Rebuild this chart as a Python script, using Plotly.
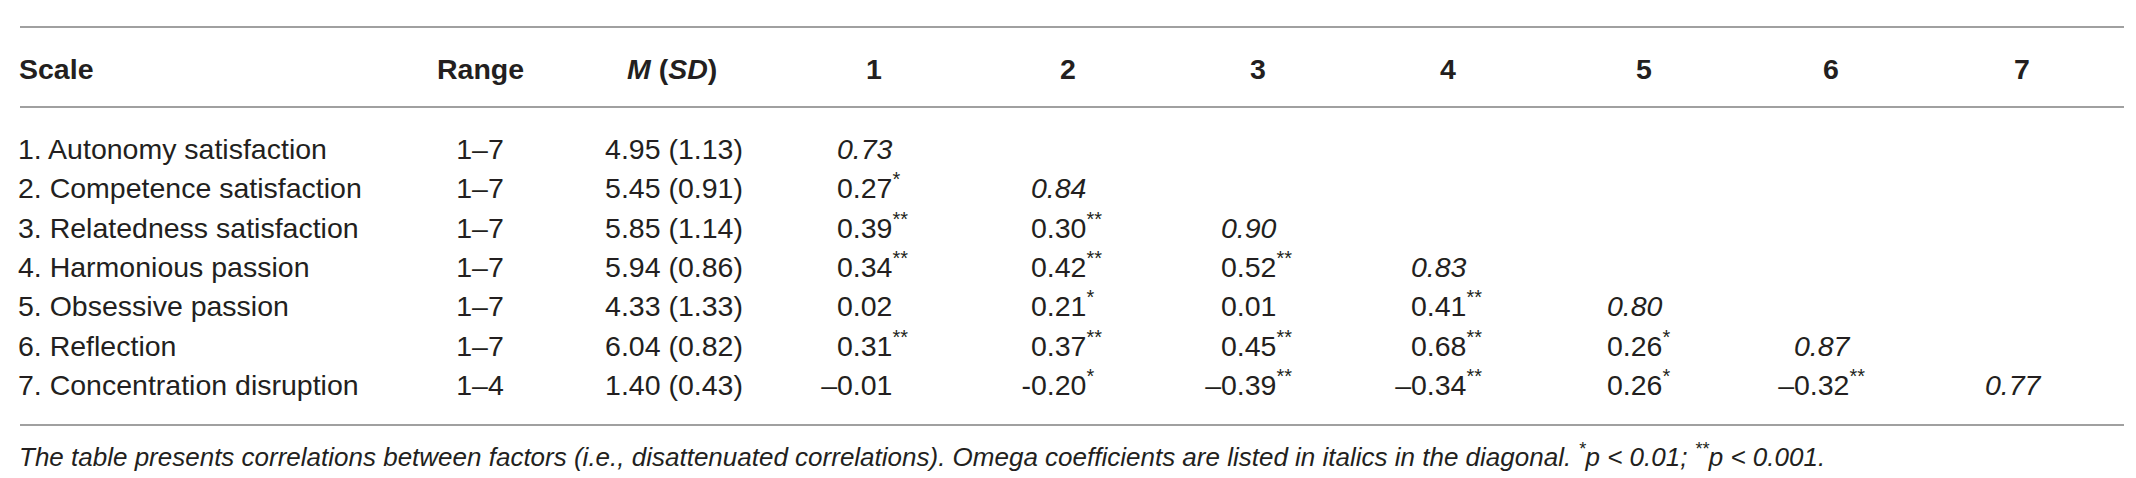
import plotly.graph_objects as go

# table contents
headers = ["Scale", "Range", "<i>M</i> (<i>SD</i>)", "1", "2", "3", "4", "5", "6", "7"]
scales = ["1. Autonomy satisfaction", "2. Competence satisfaction", "3. Relatedness satisfaction",
          "4. Harmonious passion", "5. Obsessive passion", "6. Reflection", "7. Concentration disruption"]
ranges = ["1–7", "1–7", "1–7", "1–7", "1–7", "1–7", "1–4"]
means = ["4.95", "5.45", "5.85", "5.94", "4.33", "6.04", "1.40"]
sds = ["1.13", "0.91", "1.14", "0.86", "1.33", "0.82", "0.43"]
omega = ["0.73", "0.84", "0.90", "0.83", "0.80", "0.87", "0.77"]
corr = [
    [],
    ["0.27"],
    ["0.39", "0.30"],
    ["0.34", "0.42", "0.52"],
    ["0.02", "0.21", "0.01", "0.41"],
    ["0.31", "0.37", "0.45", "0.68", "0.26"],
    ["–0.01", "-0.20", "–0.39", "–0.34", "0.26", "–0.32"],
]
stars = [
    [],
    ["*"],
    ["**", "**"],
    ["**", "**", "**"],
    ["", "*", "", "**"],
    ["**", "**", "**", "**", "*"],
    ["", "*", "**", "**", "*", "**"],
]
note = ("The table presents correlations between factors (i.e., disattenuated correlations). "
        "Omega coefficients are listed in italics in the diagonal. "
        "<sup>*</sup>p &lt; 0.01; <sup>**</sup>p &lt; 0.001.")

W, H = 2136, 478
FONT = "Liberation Sans, Arial, sans-serif"
INK = "#231f20"
FS = 28.5

head_x = [10, 472, 664, 866, 1060, 1250, 1440, 1636, 1823, 2014]
head_y = 61
row_y0, row_dy = 144, 39.3
rule_y = [19, 99, 417]
sign_w = {"–": 0.556, "-": 0.333}

row_y = [row_y0 + r * row_dy for r in range(len(scales))]
font = dict(family=FONT, size=FS, color=INK)

fig = go.Figure()


def column(xs, ys, texts, pos):
    fig.add_trace(go.Scatter(x=xs, y=ys, text=texts, mode="text", textposition=pos,
                             textfont=font, hoverinfo="skip", cliponaxis=False))


column([head_x[0]] * len(scales), row_y, scales, "middle right")
column([head_x[1]] * len(ranges), row_y, ranges, "middle center")
column([head_x[2] + 2] * len(means), row_y, [f"{m} ({s})" for m, s in zip(means, sds)], "middle center")

# correlations: digits line up, a leading sign hangs to the left
cx, cy, ct = [], [], []
for r in range(len(corr)):
    for c, v in enumerate(corr[r]):
        x0 = head_x[3 + c] - 37
        if v[0] in sign_w:
            x0 -= sign_w[v[0]] * FS
        cx.append(x0)
        cy.append(row_y[r])
        ct.append(v + (f"<sup>{stars[r][c]}</sup>" if stars[r][c] else ""))
column(cx, cy, ct, "middle right")

# omega coefficients on the diagonal
column([head_x[3 + r] - 37 for r in range(len(omega))], row_y,
       [f"<i>{o}</i>" for o in omega], "middle right")

ann = []
for i, h in enumerate(headers):
    ann.append(dict(x=head_x[i], y=head_y, xref="x", yref="y", text=f"<b>{h}</b>",
                    showarrow=False, xanchor="left" if i == 0 else "center",
                    yanchor="middle", borderpad=0, font=font))
ann.append(dict(x=head_x[0], y=447, xref="x", yref="y", text=f"<i>{note}</i>",
                showarrow=False, xanchor="left", yanchor="middle", borderpad=0,
                font=dict(family=FONT, size=26, color=INK)))

shapes = [dict(type="line", xref="x", yref="y", x0=12, x1=2116, y0=ry, y1=ry,
               line=dict(color="#a0a0a0", width=2)) for ry in rule_y]

fig.update_layout(
    width=W, height=H,
    margin=dict(l=0, r=0, t=0, b=0),
    paper_bgcolor="white", plot_bgcolor="white",
    xaxis=dict(range=[0, W], visible=False, fixedrange=True),
    yaxis=dict(range=[H, 0], visible=False, fixedrange=True),
    annotations=ann, shapes=shapes, showlegend=False,
)

fig.write_html("out.html")
